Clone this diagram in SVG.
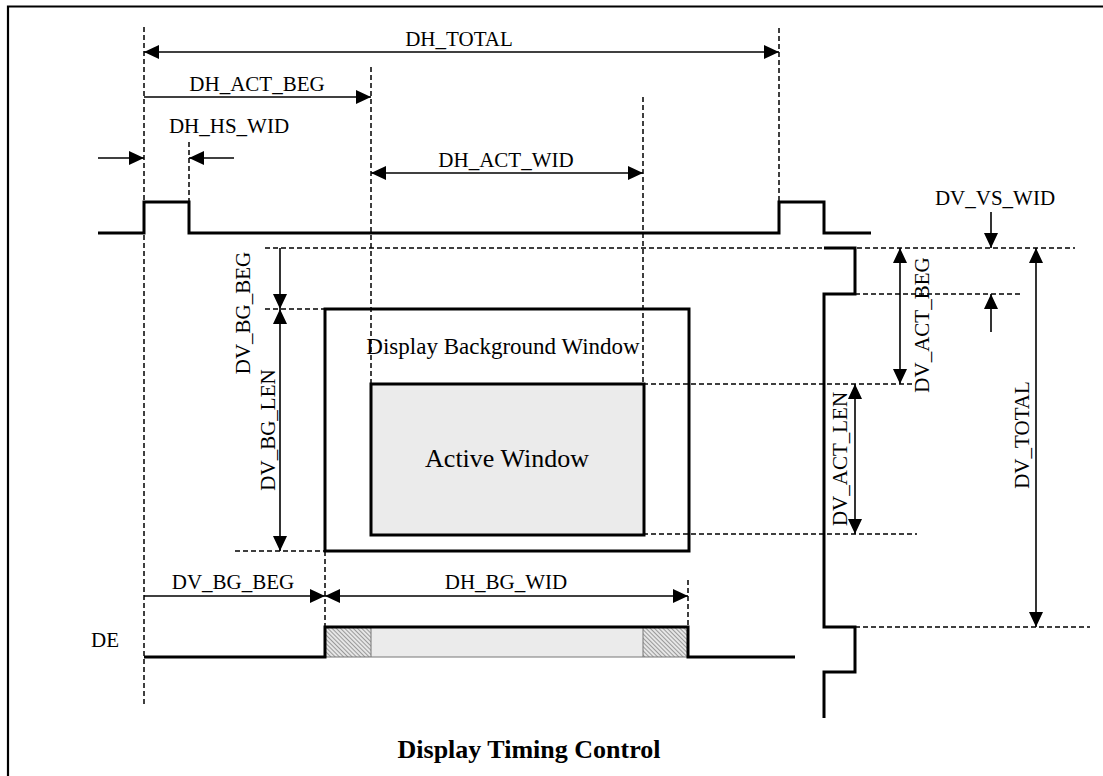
<svg xmlns="http://www.w3.org/2000/svg" width="1103" height="776" viewBox="0 0 1103 776">
<style>
text{font-family:"Liberation Serif","Times New Roman",serif;font-size:21px;fill:#000}
.mid{text-anchor:middle}
.dash{fill:none;stroke:#000;stroke-width:1.5;stroke-dasharray:5,3}
.wave{fill:none;stroke:#000;stroke-width:3}
.dim{fill:none;stroke:#000;stroke-width:1.6}
.a2{marker-start:url(#ah);marker-end:url(#ah)}
.ae{marker-end:url(#ah)}
.box{stroke:#000;stroke-width:3}
</style>
<defs>
<marker id="ah" markerUnits="userSpaceOnUse" markerWidth="16" markerHeight="14" refX="15" refY="7" orient="auto-start-reverse" viewBox="0 0 16 14">
<path d="M0,0 L15,7 L0,14 z" fill="#000"/>
</marker>
<pattern id="hatch" width="3" height="3" patternUnits="userSpaceOnUse" patternTransform="rotate(-45)">
<rect width="3" height="3" fill="#e6e6e6"/>
<line x1="0" y1="0" x2="0" y2="3" stroke="#707070" stroke-width="1.3"/>
</pattern>
</defs>
<rect width="1103" height="776" fill="#fff"/>
<path d="M8,776 V6.5 H1103" fill="none" stroke="#000" stroke-width="2.2"/>

<g id="guides">
<path class="dash" d="M144,27 V705 M189,142 V202 M371,67 V384 M643,97 V384 M779,28 V202 M325,551 V627 M688,580 V627"/>
<path class="dash" d="M265,248 H1075 M265,309 H325 M235,551 H325 M855,294 H1022 M643,384 H913 M643,534 H917 M855,627 H1090"/>
</g>

<g id="hsync">
<path class="wave" d="M98,233 H144 V202 H189 V233 H779 V202 H824 V233 H871"/>
</g>

<g id="vsync">
<path class="wave" d="M824,248 H855 V294 H824 V627 H855 V672 H824 V718"/>
</g>

<g id="bg-window">
<rect class="box" x="325" y="309" width="364" height="242" fill="none"/>
<text class="mid" x="503" y="354" style="font-size:23px">Display Background Window</text>
</g>

<g id="active-window">
<rect class="box" x="371" y="384" width="273" height="151" fill="#ebebeb"/>
<text class="mid" x="507" y="467" style="font-size:26px">Active Window</text>
</g>

<g id="de">
<rect x="325" y="627" width="46" height="30" fill="url(#hatch)"/>
<rect x="371" y="627" width="272" height="30" fill="#ebebeb"/>
<rect x="643" y="627" width="45" height="30" fill="url(#hatch)"/>
<path d="M325,657 H688 M371,627 V657 M643,627 V657" fill="none" stroke="#777" stroke-width="1"/>
<path class="wave" d="M144,657 H325 V627 H688 V657 H795"/>
<text x="91" y="647">DE</text>
</g>

<g id="connectors">
<line class="dim a2" x1="144" y1="52" x2="779" y2="52"/>
<line class="dim ae" x1="144" y1="97" x2="371" y2="97"/>
<line class="dim ae" x1="98" y1="158" x2="144" y2="158"/>
<line class="dim ae" x1="234" y1="158" x2="189" y2="158"/>
<line class="dim a2" x1="371" y1="173" x2="643" y2="173"/>
<line class="dim ae" x1="280" y1="248" x2="280" y2="309"/>
<line class="dim a2" x1="280" y1="309" x2="280" y2="551"/>
<line class="dim a2" x1="900" y1="248" x2="900" y2="384"/>
<line class="dim a2" x1="855" y1="384" x2="855" y2="534"/>
<line class="dim a2" x1="1036" y1="248" x2="1036" y2="627"/>
<line class="dim ae" x1="991" y1="212" x2="991" y2="248"/>
<line class="dim ae" x1="991" y1="332" x2="991" y2="294"/>
<line class="dim ae" x1="144" y1="596" x2="325" y2="596"/>
<line class="dim a2" x1="325" y1="596" x2="688" y2="596"/>
</g>

<g id="labels">
<text class="mid" x="459" y="46">DH_TOTAL</text>
<text class="mid" x="257" y="91">DH_ACT_BEG</text>
<text class="mid" x="229" y="133">DH_HS_WID</text>
<text class="mid" x="506" y="167">DH_ACT_WID</text>
<text class="mid" x="995" y="205">DV_VS_WID</text>
<text class="mid" x="233" y="589">DV_BG_BEG</text>
<text class="mid" x="506" y="589">DH_BG_WID</text>
<text class="mid" transform="translate(250,313) rotate(-90)">DV_BG_BEG</text>
<text class="mid" transform="translate(275,430) rotate(-90)">DV_BG_LEN</text>
<text class="mid" transform="translate(929,325) rotate(-90)">DV_ACT_BEG</text>
<text class="mid" transform="translate(847,459) rotate(-90)">DV_ACT_LEN</text>
<text class="mid" transform="translate(1029,435) rotate(-90)">DV_TOTAL</text>
<text class="mid" x="529" y="758" style="font-weight:bold;font-size:26px">Display Timing Control</text>
</g>
</svg>
